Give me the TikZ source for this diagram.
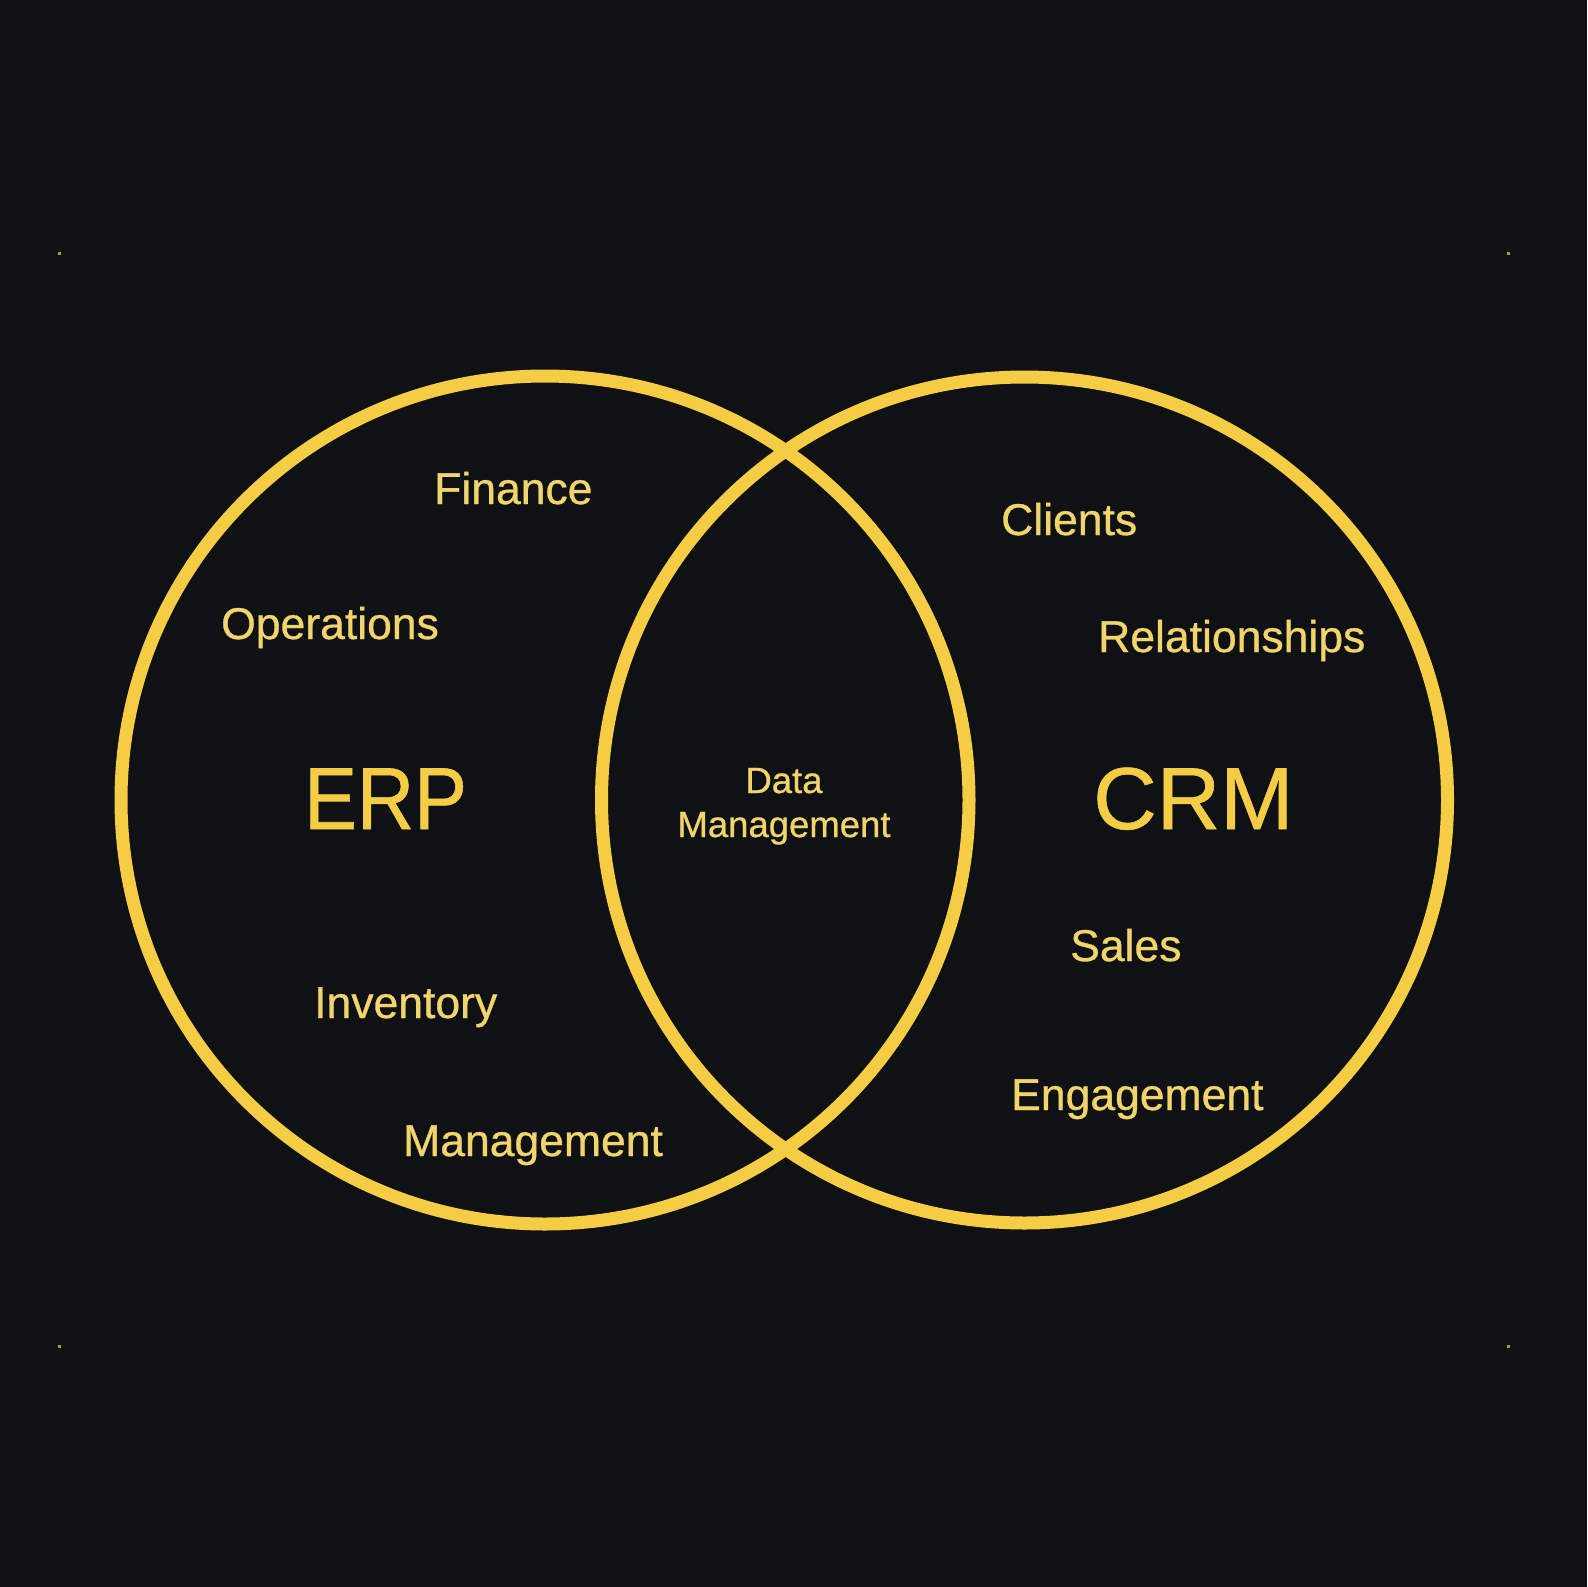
\documentclass[tikz,border=0pt]{standalone}
\usepackage{fontspec}
\setmainfont{Liberation Sans}
\newfontfamily\labfont[FakeBold=0.7]{Liberation Sans}
\definecolor{bgc}{HTML}{0F1114}
\definecolor{ringc}{HTML}{F5CD45}
\definecolor{labc}{HTML}{F1D56C}
\begin{document}
\begin{tikzpicture}[x=1pt,y=-1pt,
  ring/.style={draw=ringc,line width=13pt},
  lab/.style={text=labc,inner sep=0pt,anchor=base west,font=\labfont\fontsize{44.5}{50}\selectfont},
  mid/.style={text=labc,inner sep=0pt,anchor=base,font=\labfont\fontsize{36.5}{44}\selectfont},
  big/.style={text=ringc,inner sep=0pt,anchor=base west,font=\labfont\fontsize{88}{100}\selectfont},
  speck/.style={fill=ringc!70!bgc,inner sep=0pt,minimum size=3pt,draw=none}]
\fill[bgc] (0,0) rectangle (1587,1587);
\useasboundingbox (0,0) rectangle (1587,1587);
% corner specks
\node[speck] (s1) at (59,253) {};
\node[speck] (s2) at (1508,253) {};
\node[speck] (s3) at (59,1346) {};
\node[speck] (s4) at (1508,1346) {};
% circles
\node[ring,circle,minimum size=848pt,inner sep=0pt] (erp) at (545,800) {};
\node[ring,circle,minimum size=846pt,inner sep=0pt] (crm) at (1024.5,800) {};
% ERP labels
\node[lab] (fin) at (434,504) {Finance};
\node[lab] (ops) at (221,639) {Operations};
\node[big,xscale=0.9] (erpt) at (304,829) {ERP};
\node[lab] (inv) at (314,1018) {Inventory};
\node[lab] (mgm) at (403,1156) {Management};
% centre
\node[mid] (data) at (784,793) {Data};
\node[mid] (dmg) at (784,837) {Management};
% CRM labels
\node[lab] (cli) at (1001,535) {Clients};
\node[lab] (rel) at (1098,652) {Relationships};
\node[big] (crmt) at (1093,829) {CRM};
\node[lab] (sal) at (1070,961) {Sales};
\node[lab] (eng) at (1011,1110) {Engagement};
\end{tikzpicture}
\end{document}
